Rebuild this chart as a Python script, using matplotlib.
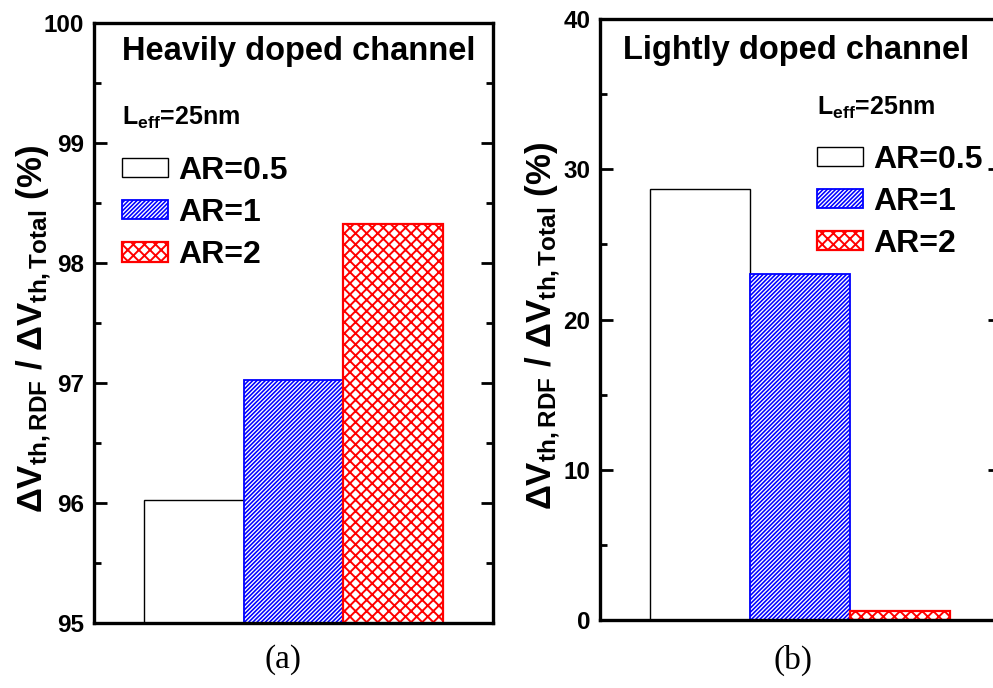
import numpy as np
import matplotlib
matplotlib.use("Agg")
import matplotlib.pyplot as plt
from matplotlib.ticker import MultipleLocator

plt.rcParams['font.family'] = ['Liberation Sans', 'DejaVu Sans']
plt.rcParams['font.weight'] = 'bold'
plt.rcParams['mathtext.fontset'] = 'custom'
plt.rcParams['mathtext.rm'] = 'Liberation Sans:bold'
plt.rcParams['mathtext.bf'] = 'Liberation Sans:bold'
plt.rcParams['mathtext.it'] = 'Liberation Sans:bold'
plt.rcParams['mathtext.default'] = 'bf'

# region Data
labels = ["AR=0.5", "AR=1", "AR=2"]
heavy_vals = [96.02, 97.02, 98.32]
light_vals = [28.72, 23.02, 0.62]
ylabel = r"$\Delta V_{th,RDF}$ / $\Delta V_{th,Total}$ (%)"
# endregion

facecolors = ["white", "white", "white"]
edgecolors = ["black", "#0000ff", "#ff0000"]
hatches = [None, "////////", "xxx"]
hatch_widths = [1.0, 1.15, 1.4]
edge_widths = [1.0, 1.3, 1.6]

fig = plt.figure(figsize=(9.93, 6.88), dpi=100)
ax_a = fig.add_axes([0.0947, 0.0949, 0.4018, 0.872])
ax_b = fig.add_axes([0.6042, 0.0988, 0.4028, 0.8735])


def draw_panel(ax, vals, ylim, major, minor, title, title_xy, leff_xy, leg_xy, lab_xy):
    x = np.arange(1, len(vals) + 1)
    for i, v in enumerate(vals):
        with plt.rc_context({'hatch.linewidth': hatch_widths[i]}):
            b = ax.bar(x[i], v, width=1.0, color=facecolors[i], edgecolor=edgecolors[i],
                       hatch=hatches[i], linewidth=edge_widths[i], label=labels[i])
        for p in b.patches:
            if hasattr(p, 'set_hatch_linewidth'):
                p.set_hatch_linewidth(hatch_widths[i])
    ax.set_xlim(0, 4)
    ax.set_ylim(*ylim)
    ax.set_xticks([])
    ax.yaxis.set_major_locator(MultipleLocator(major))
    ax.yaxis.set_minor_locator(MultipleLocator(minor))
    ax.tick_params(axis='y', which='both', direction='in', left=True, right=True,
                   width=2, labelsize=17.5, pad=7)
    ax.tick_params(axis='y', which='major', length=9)
    ax.tick_params(axis='y', which='minor', length=5)
    for s in ax.spines.values():
        s.set_linewidth(2.4)
    ax.set_ylabel(ylabel, fontsize=25, fontweight='bold')
    ax.yaxis.set_label_coords(*lab_xy)
    ax.text(title_xy[0], title_xy[1], title, transform=ax.transAxes,
            fontsize=23.5, fontweight='bold', va='center', ha='left')
    ax.text(leff_xy[0], leff_xy[1], r"L$_{eff}$=25nm", transform=ax.transAxes,
            fontsize=18, fontweight='bold', va='baseline', ha='left')
    leg = ax.legend(loc='upper left', bbox_to_anchor=leg_xy, frameon=False,
                    borderpad=0, borderaxespad=0, handlelength=1.45,
                    handleheight=0.55, handletextpad=0.3, labelspacing=0.38,
                    prop={'weight': 'bold', 'size': 23})
    for h, w in zip(leg.legend_handles, hatch_widths):
        if hasattr(h, 'set_hatch_linewidth'):
            h.set_hatch_linewidth(w)


draw_panel(ax_a, heavy_vals, (95, 100), 1, 0.5, "Heavily doped channel",
           (0.071, 0.952), (0.070, 0.8295), (0.070, 0.778), (-0.103, 0.489))
draw_panel(ax_b, light_vals, (0, 40), 10, 5, "Lightly doped channel",
           (0.058, 0.947), (0.5425, 0.840), (0.5425, 0.791), (-0.095, 0.49))

fig.text(0.285, 0.0407, "(a)", family='Liberation Serif', fontweight='normal',
         fontsize=24, ha='center', va='center')
fig.text(0.7986, 0.0407, "(b)", family='Liberation Serif', fontweight='normal',
         fontsize=24, ha='center', va='center')

fig.savefig("out.png", dpi=100)
